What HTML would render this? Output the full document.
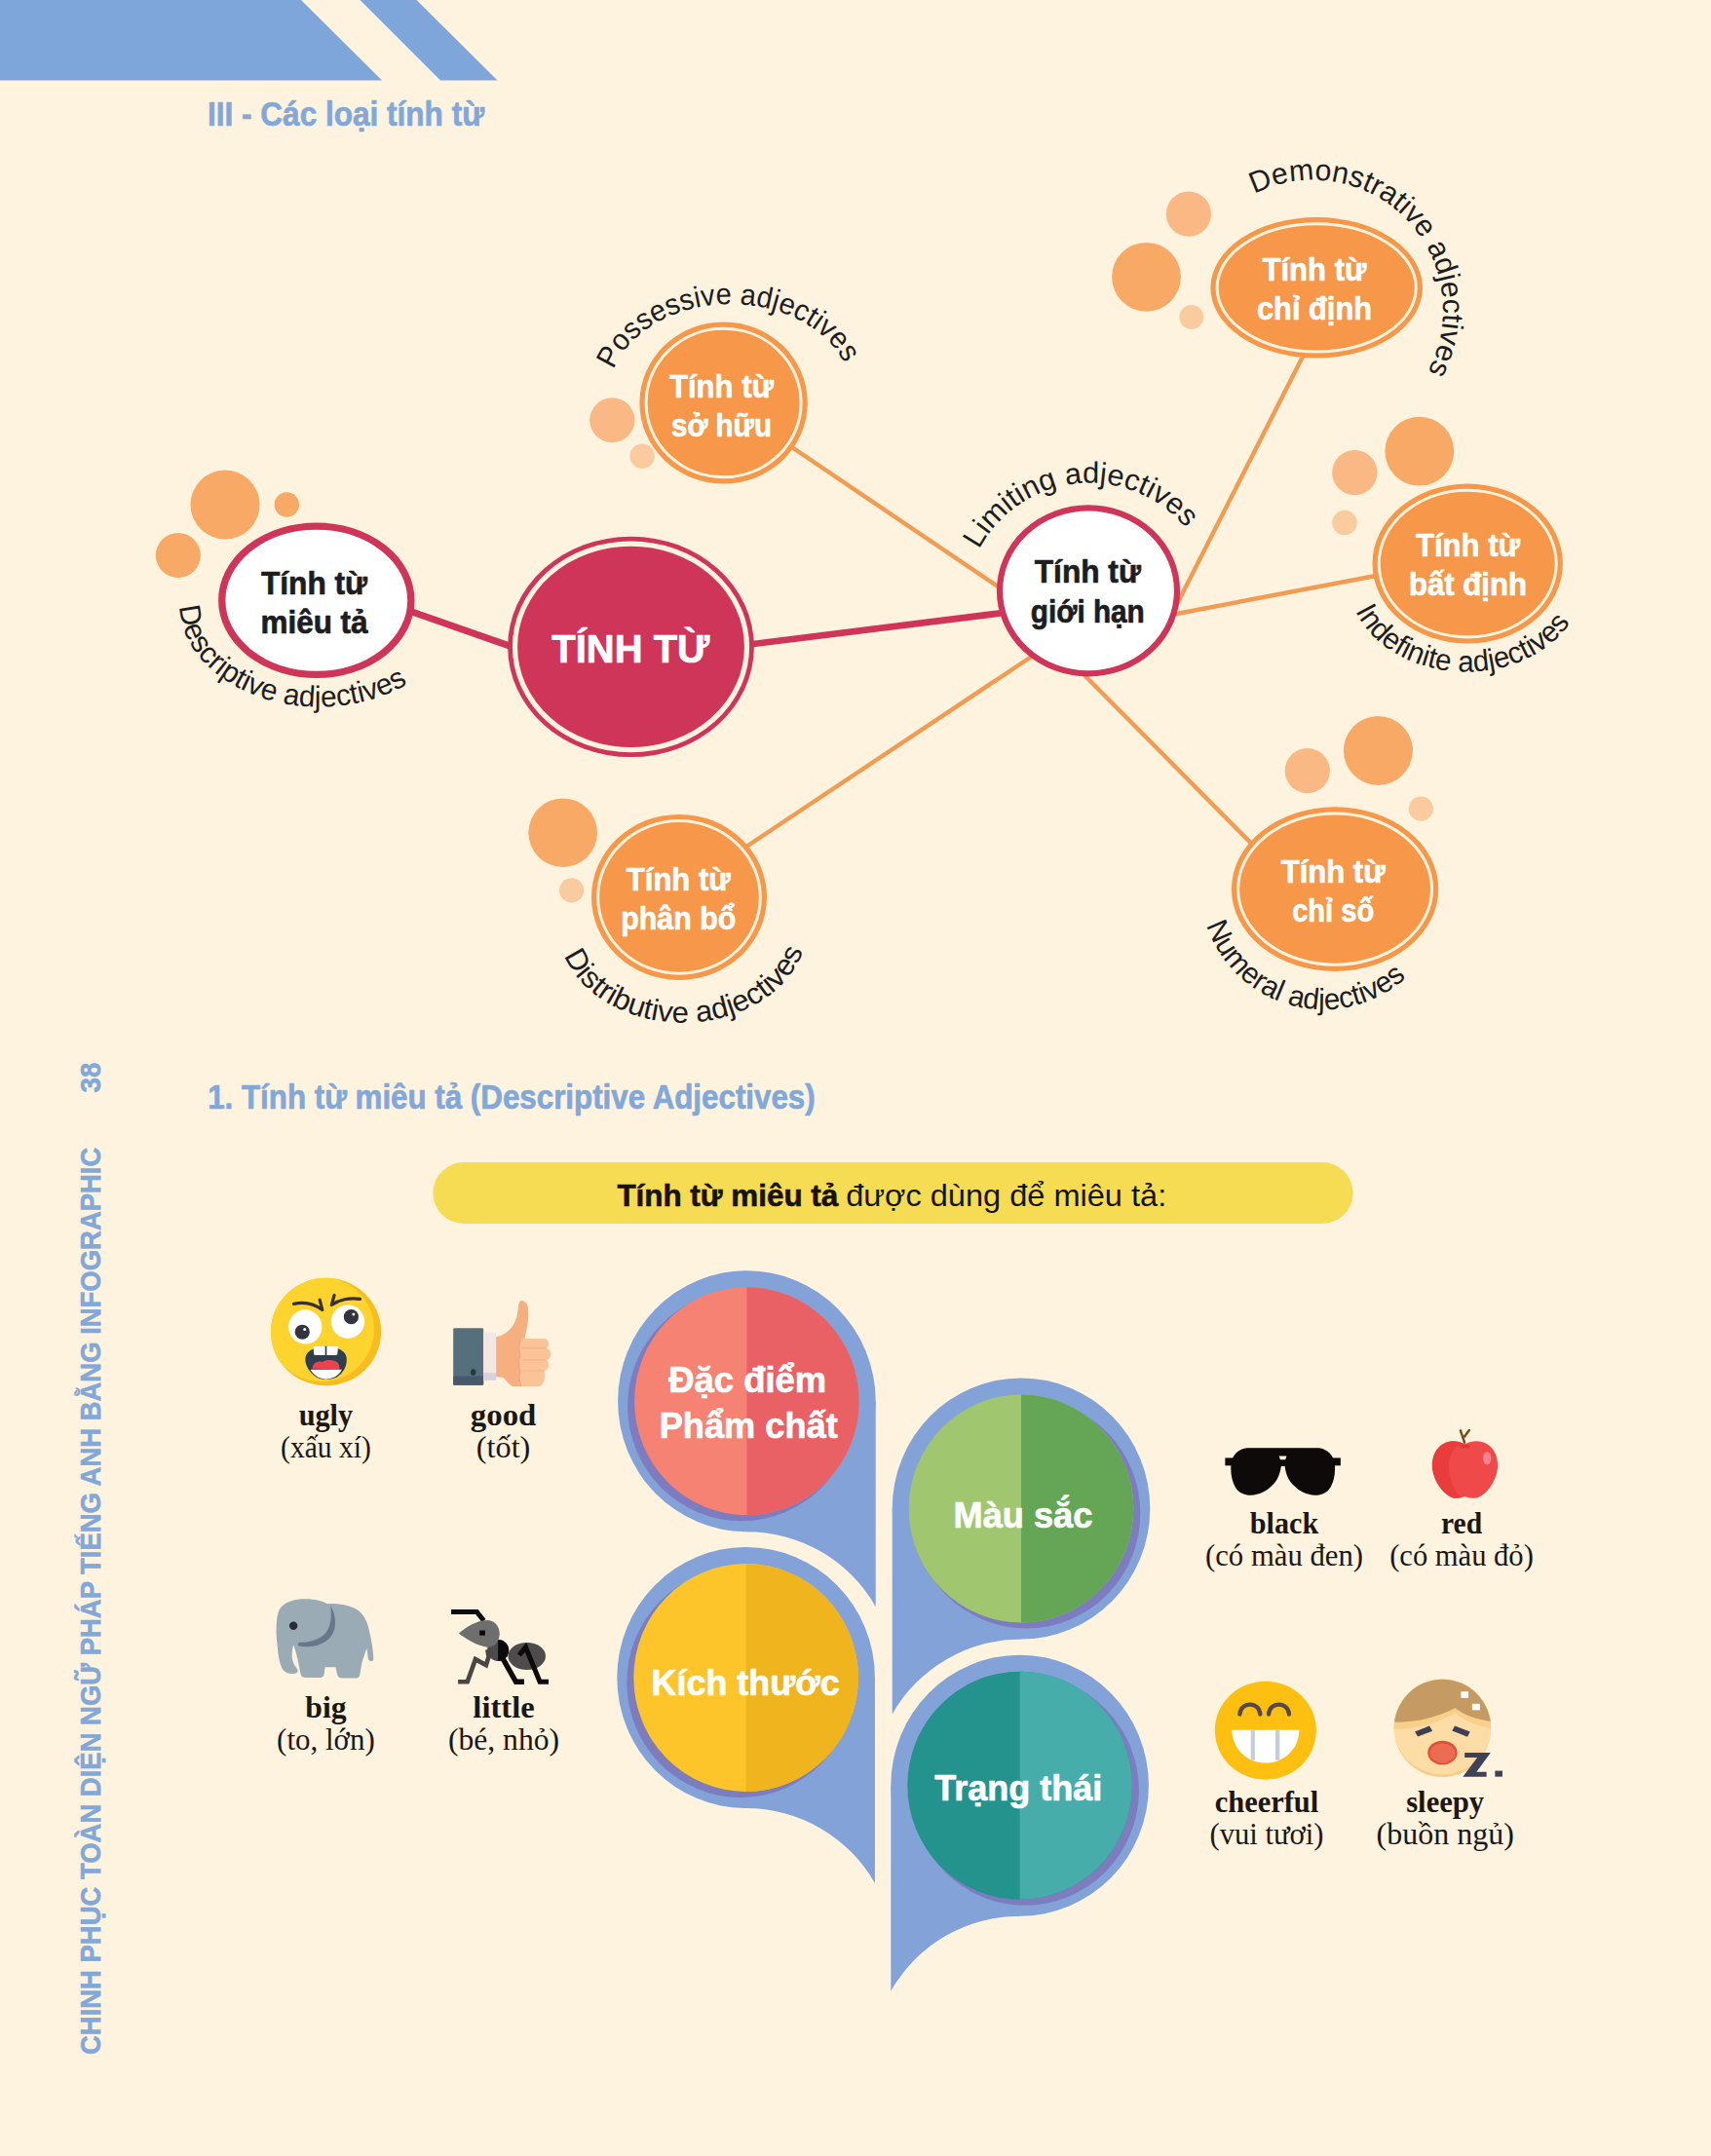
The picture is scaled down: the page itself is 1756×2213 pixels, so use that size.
<!DOCTYPE html>
<html lang="vi"><head><meta charset="utf-8"><title>III - Các loại tính từ</title>
<style>
html,body{margin:0;padding:0;background:#fef3de;}
body{width:1756px;height:2213px;overflow:hidden;}
svg{display:block;}
.sb{font-family:"Liberation Sans", sans-serif;font-weight:700;}
.sn{font-family:"Liberation Sans", sans-serif;font-weight:400;}
.rb{font-family:"Liberation Serif", serif;font-weight:700;}
.rn{font-family:"Liberation Serif", serif;font-weight:400;}
</style></head><body>
<svg width="1756" height="2213" viewBox="0 0 1756 2213">
<rect width="1756" height="2213" fill="#fef3de"/>
<defs>
<path id="cPos" d="M629.75,379.33 A125,93.9 0 0 1 871.10,383.92" fill="none"/>
<path id="cLim" d="M1004.83,564.13 A128.3,128.3 0 0 1 1226.51,555.06" fill="none"/>
<path id="cDem" d="M1287.24,199.00 A133.7,133.7 0 0 1 1456.38,395.85" fill="none"/>
<path id="cDes" d="M184.42,622.53 A143.3,104.8 0 0 0 431.65,692.84" fill="none"/>
<path id="cInd" d="M1391.15,627.15 A121.2,95.7 0 0 0 1617.80,628.51" fill="none"/>
<path id="cDis" d="M579.14,980.89 A127.5,98.4 0 0 0 827.08,964.21" fill="none"/>
<path id="cNum" d="M1238.06,949.65 A126.8,126.8 0 0 0 1454.58,991.92" fill="none"/>
</defs>
<polygon points="0,0 309,0 392,82.5 0,82.5" fill="#7fa6da"/>
<polygon points="369.5,0 427.5,0 510.5,82.5 452,82.5" fill="#7fa6da"/>
<text class="sb" x="213" y="128.6" font-size="35" fill="#82a8d9" text-anchor="start" textLength="284" lengthAdjust="spacingAndGlyphs" stroke="#82a8d9" stroke-width="0.7" stroke-linejoin="round">III - Các loại tính từ</text>
<line x1="420" y1="627" x2="530" y2="665.5" stroke="#cf3558" stroke-width="7" stroke-linecap="butt"/>
<line x1="765" y1="662" x2="1030" y2="629" stroke="#cf3558" stroke-width="6.8" stroke-linecap="butt"/>
<line x1="812" y1="458.5" x2="1030" y2="606" stroke="#f29b52" stroke-width="4.4" stroke-linecap="butt"/>
<line x1="1339" y1="362" x2="1208" y2="620" stroke="#f29b52" stroke-width="4.4" stroke-linecap="butt"/>
<line x1="1412" y1="591" x2="1205" y2="630.5" stroke="#f29b52" stroke-width="4.4" stroke-linecap="butt"/>
<line x1="766" y1="869" x2="1060" y2="673" stroke="#f29b52" stroke-width="4.4" stroke-linecap="butt"/>
<line x1="1284" y1="865.5" x2="1110" y2="690" stroke="#f29b52" stroke-width="4.4" stroke-linecap="butt"/>
<circle cx="231" cy="518" r="35.5" fill="#f8a965"/>
<circle cx="294.3" cy="518" r="12.7" fill="#f8a965"/>
<circle cx="182.8" cy="570" r="23" fill="#f8a965"/>
<circle cx="628.3" cy="431.3" r="23" fill="#fab884"/>
<circle cx="659.1" cy="468.3" r="12.7" fill="#fbcba0"/>
<circle cx="1219.9" cy="219.7" r="23.1" fill="#fab884"/>
<circle cx="1176.5" cy="284.3" r="35.4" fill="#f8a965"/>
<circle cx="1222.8" cy="325.5" r="12.5" fill="#fbcba0"/>
<circle cx="1456.8" cy="463.2" r="35.4" fill="#f8a965"/>
<circle cx="1390.3" cy="485.2" r="23.1" fill="#fab884"/>
<circle cx="1380" cy="536.5" r="12.7" fill="#fbcba0"/>
<circle cx="577.7" cy="854.7" r="35.3" fill="#f8a965"/>
<circle cx="586.6" cy="913.9" r="12.6" fill="#fbcba0"/>
<circle cx="1414.4" cy="770.5" r="35.5" fill="#f8a965"/>
<circle cx="1341.8" cy="791.2" r="23.1" fill="#fab884"/>
<circle cx="1458.3" cy="830.2" r="12.6" fill="#fbcba0"/>
<ellipse cx="324.8" cy="616.2" rx="97.05" ry="76.14999999999999" fill="#fff" stroke="#cf3558" stroke-width="7.3"/>
<text class="sb" x="322.5" y="609.7" font-size="33" fill="#1d1d1f" text-anchor="middle" textLength="109" lengthAdjust="spacingAndGlyphs" stroke="#1d1d1f" stroke-width="0.7" stroke-linejoin="round">Tính từ</text>
<text class="sb" x="322.5" y="649.8" font-size="33" fill="#1d1d1f" text-anchor="middle" textLength="110" lengthAdjust="spacingAndGlyphs" stroke="#1d1d1f" stroke-width="0.7" stroke-linejoin="round">miêu tả</text>
<ellipse cx="1117" cy="606.4" rx="91.0" ry="85.0" fill="#fff" stroke="#cf3558" stroke-width="6.2"/>
<text class="sb" x="1116.3" y="598.2" font-size="33" fill="#1d1d1f" text-anchor="middle" textLength="109" lengthAdjust="spacingAndGlyphs" stroke="#1d1d1f" stroke-width="0.7" stroke-linejoin="round">Tính từ</text>
<text class="sb" x="1116.3" y="638.7" font-size="33" fill="#1d1d1f" text-anchor="middle" textLength="117" lengthAdjust="spacingAndGlyphs" stroke="#1d1d1f" stroke-width="0.7" stroke-linejoin="round">giới hạn</text>
<ellipse cx="647.5" cy="663.9" rx="126.4" ry="113.2" fill="#cf3558"/>
<ellipse cx="647.5" cy="663.9" rx="119" ry="105.8" fill="none" stroke="#fef3de" stroke-width="5.2"/>
<text class="sb" x="647.3" y="679.9" font-size="40" fill="#fff" text-anchor="middle" textLength="162" lengthAdjust="spacingAndGlyphs" stroke="#fff" stroke-width="0.7" stroke-linejoin="round">TÍNH TỪ</text>
<ellipse cx="742.6" cy="413.5" rx="86.2" ry="83" fill="#f6974a"/>
<ellipse cx="742.6" cy="413.5" rx="79.5" ry="76.3" fill="none" stroke="#fef3de" stroke-width="3"/>
<text class="sb" x="740.5" y="407.7" font-size="33" fill="#fff" text-anchor="middle" textLength="107" lengthAdjust="spacingAndGlyphs" stroke="#fff" stroke-width="0.7" stroke-linejoin="round">Tính từ</text>
<text class="sb" x="740.5" y="447.9" font-size="33" fill="#fff" text-anchor="middle" textLength="103" lengthAdjust="spacingAndGlyphs" stroke="#fff" stroke-width="0.7" stroke-linejoin="round">sở hữu</text>
<ellipse cx="1351.2" cy="295.3" rx="108.8" ry="72.3" fill="#f6974a"/>
<ellipse cx="1351.2" cy="295.3" rx="102.1" ry="65.6" fill="none" stroke="#fef3de" stroke-width="3"/>
<text class="sb" x="1349" y="287.9" font-size="33" fill="#fff" text-anchor="middle" textLength="107" lengthAdjust="spacingAndGlyphs" stroke="#fff" stroke-width="0.7" stroke-linejoin="round">Tính từ</text>
<text class="sb" x="1349" y="328" font-size="33" fill="#fff" text-anchor="middle" textLength="118" lengthAdjust="spacingAndGlyphs" stroke="#fff" stroke-width="0.7" stroke-linejoin="round">chỉ định</text>
<ellipse cx="1506.2" cy="578.6" rx="97.7" ry="82" fill="#f6974a"/>
<ellipse cx="1506.2" cy="578.6" rx="91.0" ry="75.3" fill="none" stroke="#fef3de" stroke-width="3"/>
<text class="sb" x="1506.5" y="571.1" font-size="33" fill="#fff" text-anchor="middle" textLength="107" lengthAdjust="spacingAndGlyphs" stroke="#fff" stroke-width="0.7" stroke-linejoin="round">Tính từ</text>
<text class="sb" x="1506.5" y="611.3" font-size="33" fill="#fff" text-anchor="middle" textLength="121" lengthAdjust="spacingAndGlyphs" stroke="#fff" stroke-width="0.7" stroke-linejoin="round">bất định</text>
<ellipse cx="697" cy="920.9" rx="90" ry="85" fill="#f6974a"/>
<ellipse cx="697" cy="920.9" rx="83.3" ry="78.3" fill="none" stroke="#fef3de" stroke-width="3"/>
<text class="sb" x="696.3" y="913.6" font-size="33" fill="#fff" text-anchor="middle" textLength="107" lengthAdjust="spacingAndGlyphs" stroke="#fff" stroke-width="0.7" stroke-linejoin="round">Tính từ</text>
<text class="sb" x="696.3" y="954.2" font-size="33" fill="#fff" text-anchor="middle" textLength="118" lengthAdjust="spacingAndGlyphs" stroke="#fff" stroke-width="0.7" stroke-linejoin="round">phân bổ</text>
<ellipse cx="1370.1" cy="912.6" rx="106.2" ry="84.3" fill="#f6974a"/>
<ellipse cx="1370.1" cy="912.6" rx="99.5" ry="77.6" fill="none" stroke="#fef3de" stroke-width="3"/>
<text class="sb" x="1368.2" y="905.5" font-size="33" fill="#fff" text-anchor="middle" textLength="107" lengthAdjust="spacingAndGlyphs" stroke="#fff" stroke-width="0.7" stroke-linejoin="round">Tính từ</text>
<text class="sb" x="1368.2" y="945.8" font-size="33" fill="#fff" text-anchor="middle" textLength="84" lengthAdjust="spacingAndGlyphs" stroke="#fff" stroke-width="0.7" stroke-linejoin="round">chỉ số</text>
<text class="sn" font-size="30.5" fill="#1d1d1f" textLength="283.7" lengthAdjust="spacingAndGlyphs"><textPath href="#cPos">Possessive adjectives</textPath></text>
<text class="sn" font-size="30.5" fill="#1d1d1f" textLength="251.6" lengthAdjust="spacingAndGlyphs"><textPath href="#cLim">Limiting adjectives</textPath></text>
<text class="sn" font-size="30.5" fill="#1d1d1f" textLength="337.9" lengthAdjust="spacingAndGlyphs"><textPath href="#cDem">Demonstrative adjectives</textPath></text>
<text class="sn" font-size="30.5" fill="#1d1d1f" textLength="288.8" lengthAdjust="spacingAndGlyphs"><textPath href="#cDes">Descriptive adjectives</textPath></text>
<text class="sn" font-size="30.5" fill="#1d1d1f" textLength="259.0" lengthAdjust="spacingAndGlyphs"><textPath href="#cInd">Indefinite adjectives</textPath></text>
<text class="sn" font-size="30.5" fill="#1d1d1f" textLength="300.3" lengthAdjust="spacingAndGlyphs"><textPath href="#cDis">Distributive adjectives</textPath></text>
<text class="sn" font-size="30.5" fill="#1d1d1f" textLength="251.3" lengthAdjust="spacingAndGlyphs"><textPath href="#cNum">Numeral adjectives</textPath></text>
<text class="sb" transform="translate(103,2109) rotate(-90)" font-size="30" fill="#82a8d9" stroke="#82a8d9" stroke-width="0.6" textLength="931.3" lengthAdjust="spacingAndGlyphs">CHINH PHỤC TOÀN DIỆN NGỮ PHÁP TIẾNG ANH BẰNG INFOGRAPHIC</text>
<text class="sb" transform="translate(103,1121.4) rotate(-90)" font-size="30" fill="#82a8d9" stroke="#82a8d9" stroke-width="0.6" textLength="30.8" lengthAdjust="spacingAndGlyphs">38</text>
<text class="sb" x="213.2" y="1137.9" font-size="35" fill="#82a8d9" text-anchor="start" textLength="623.5" lengthAdjust="spacingAndGlyphs" stroke="#82a8d9" stroke-width="0.7" stroke-linejoin="round">1. Tính từ miêu tả (Descriptive Adjectives)</text>
<rect x="444.4" y="1193" width="944.2" height="63" rx="31.5" fill="#f5dc52"/>
<text x="633.4" y="1238" font-size="32" fill="#17130c"><tspan class="sb" stroke="#17130c" stroke-width="0.6" textLength="226.8" lengthAdjust="spacingAndGlyphs">Tính từ miêu tả</tspan><tspan class="sn" dx="8" textLength="329" lengthAdjust="spacingAndGlyphs">được dùng để miêu tả:</tspan></text>
<ellipse cx="766.4" cy="1438.2" rx="132.3" ry="134" fill="#83a2d8"/>
<path d="M898.7,1438.2 L898.7,1649.2 A152,152 0 0 0 766.4,1572.2 L766.4,1438.2 Z" fill="#83a2d8"/>
<ellipse cx="760.9" cy="1443.2" rx="116.8" ry="118" fill="#7c7cbf"/>
<ellipse cx="766.4" cy="1438.2" rx="115.3" ry="117" fill="#f58273"/>
<path d="M766.4,1321.2 A115.3,117 0 0 1 766.4,1555.2 Z" fill="#e96165"/>
<text class="sb" x="767.2" y="1429.2" font-size="37" fill="#fff" text-anchor="middle" textLength="162" lengthAdjust="spacingAndGlyphs" stroke="#fff" stroke-width="0.7" stroke-linejoin="round">Đặc điểm</text>
<text class="sb" x="768.2" y="1476" font-size="37" fill="#fff" text-anchor="middle" textLength="183" lengthAdjust="spacingAndGlyphs" stroke="#fff" stroke-width="0.7" stroke-linejoin="round">Phẩm chất</text>
<ellipse cx="765.6" cy="1722" rx="132.3" ry="134" fill="#83a2d8"/>
<path d="M897.9000000000001,1722 L897.9000000000001,1933 A152,152 0 0 0 765.6,1856 L765.6,1722 Z" fill="#83a2d8"/>
<ellipse cx="760.1" cy="1727" rx="116.8" ry="118" fill="#7c7cbf"/>
<ellipse cx="765.6" cy="1722" rx="115.3" ry="117" fill="#fec52a"/>
<path d="M765.6,1605 A115.3,117 0 0 1 765.6,1839 Z" fill="#f0b41f"/>
<text class="sb" x="765.1" y="1740.1" font-size="37" fill="#fff" text-anchor="middle" textLength="193" lengthAdjust="spacingAndGlyphs" stroke="#fff" stroke-width="0.7" stroke-linejoin="round">Kích thước</text>
<ellipse cx="1048" cy="1548.5" rx="132.3" ry="134" fill="#83a2d8"/>
<path d="M915.7,1548.5 L915.7,1759.5 A152,152 0 0 1 1048,1682.5 L1048,1548.5 Z" fill="#83a2d8"/>
<ellipse cx="1053.5" cy="1553.5" rx="116.8" ry="118" fill="#7c7cbf"/>
<ellipse cx="1048" cy="1548.5" rx="115.3" ry="117" fill="#a0c76f"/>
<path d="M1048,1431.5 A115.3,117 0 0 1 1048,1665.5 Z" fill="#64a655"/>
<text class="sb" x="1049.9" y="1567.6" font-size="37" fill="#fff" text-anchor="middle" textLength="142.8" lengthAdjust="spacingAndGlyphs" stroke="#fff" stroke-width="0.7" stroke-linejoin="round">Màu sắc</text>
<ellipse cx="1046.6" cy="1832.7" rx="132.3" ry="134" fill="#83a2d8"/>
<path d="M914.3,1832.7 L914.3,2043.7 A152,152 0 0 1 1046.6,1966.7 L1046.6,1832.7 Z" fill="#83a2d8"/>
<ellipse cx="1052.1" cy="1837.7" rx="116.8" ry="118" fill="#7c7cbf"/>
<ellipse cx="1046.6" cy="1832.7" rx="115.3" ry="117" fill="#24928d"/>
<path d="M1046.6,1715.7 A115.3,117 0 0 1 1046.6,1949.7 Z" fill="#47adab"/>
<text class="sb" x="1045.3" y="1847.7" font-size="37" fill="#fff" text-anchor="middle" textLength="172.2" lengthAdjust="spacingAndGlyphs" stroke="#fff" stroke-width="0.7" stroke-linejoin="round">Trạng thái</text>
<text class="rb" x="334.4" y="1462.6999999999998" font-size="31" fill="#1c1713" text-anchor="middle" textLength="55.5" lengthAdjust="spacingAndGlyphs">ugly</text>
<text class="rn" x="334.4" y="1495.5" font-size="31.5" fill="#1c1713" text-anchor="middle" textLength="92.7" lengthAdjust="spacingAndGlyphs">(xấu xí)</text>
<text class="rb" x="516.6" y="1462.6999999999998" font-size="31" fill="#1c1713" text-anchor="middle" textLength="67.5" lengthAdjust="spacingAndGlyphs">good</text>
<text class="rn" x="516.6" y="1495.5" font-size="31.5" fill="#1c1713" text-anchor="middle" textLength="55.5" lengthAdjust="spacingAndGlyphs">(tốt)</text>
<text class="rb" x="334.4" y="1762.6999999999998" font-size="31" fill="#1c1713" text-anchor="middle" textLength="42.2" lengthAdjust="spacingAndGlyphs">big</text>
<text class="rn" x="334.4" y="1796.1" font-size="31.5" fill="#1c1713" text-anchor="middle" textLength="100.6" lengthAdjust="spacingAndGlyphs">(to, lớn)</text>
<text class="rb" x="517" y="1762.6999999999998" font-size="31" fill="#1c1713" text-anchor="middle" textLength="63.3" lengthAdjust="spacingAndGlyphs">little</text>
<text class="rn" x="517" y="1796.1" font-size="31.5" fill="#1c1713" text-anchor="middle" textLength="114" lengthAdjust="spacingAndGlyphs">(bé, nhỏ)</text>
<text class="rb" x="1318" y="1573.8999999999999" font-size="31" fill="#1c1713" text-anchor="middle" textLength="70.4" lengthAdjust="spacingAndGlyphs">black</text>
<text class="rn" x="1318" y="1606.6" font-size="31.5" fill="#1c1713" text-anchor="middle" textLength="162" lengthAdjust="spacingAndGlyphs">(có màu đen)</text>
<text class="rb" x="1500" y="1573.8999999999999" font-size="31" fill="#1c1713" text-anchor="middle" textLength="42.2" lengthAdjust="spacingAndGlyphs">red</text>
<text class="rn" x="1500" y="1606.6" font-size="31.5" fill="#1c1713" text-anchor="middle" textLength="147.7" lengthAdjust="spacingAndGlyphs">(có màu đỏ)</text>
<text class="rb" x="1300" y="1860.1" font-size="31" fill="#1c1713" text-anchor="middle" textLength="106.6" lengthAdjust="spacingAndGlyphs">cheerful</text>
<text class="rn" x="1300" y="1892.8" font-size="31.5" fill="#1c1713" text-anchor="middle" textLength="117" lengthAdjust="spacingAndGlyphs">(vui tươi)</text>
<text class="rb" x="1483.2" y="1860.1" font-size="31" fill="#1c1713" text-anchor="middle" textLength="80" lengthAdjust="spacingAndGlyphs">sleepy</text>
<text class="rn" x="1483.2" y="1892.8" font-size="31.5" fill="#1c1713" text-anchor="middle" textLength="141.2" lengthAdjust="spacingAndGlyphs">(buồn ngủ)</text>
<g transform="translate(270,1300) scale(0.075979)">
<defs><clipPath id="uf"><ellipse cx="850" cy="882" rx="745" ry="728"/></clipPath></defs>
<ellipse cx="850" cy="882" rx="745" ry="728" fill="#f7bd1f"/>
<ellipse cx="788" cy="850" rx="712" ry="705" fill="#fdd42d" clip-path="url(#uf)"/>
<ellipse cx="570" cy="815" rx="225" ry="232" fill="#fff"/>
<ellipse cx="1145" cy="745" rx="225" ry="225" fill="#fff"/>
<circle cx="530" cy="885" r="100" fill="#33343f"/>
<circle cx="1190" cy="680" r="100" fill="#33343f"/>
<circle cx="562" cy="850" r="20" fill="#fff"/>
<circle cx="1222" cy="645" r="20" fill="#fff"/>
<g fill="none" stroke="#3a3032" stroke-width="42" stroke-linecap="round" stroke-linejoin="round">
<path d="M415,505 C560,470 700,510 800,585 L765,450"/>
<path d="M1310,440 C1170,415 1020,450 925,520 L962,388"/>
</g>
<path d="M572,1235 C585,1140 680,1088 850,1085 C1020,1088 1115,1140 1128,1235 C1140,1335 1085,1440 1000,1492 C905,1540 795,1540 715,1492 C625,1430 560,1330 572,1235 Z" fill="#2f3e4e"/>
<path d="M680,1078 L1012,1078 L1005,1180 Q1000,1198 980,1198 L710,1198 Q690,1198 686,1180 Z" fill="#fff"/>
<rect x="838" y="1075" width="22" height="125" fill="#2f3e4e"/>
<path d="M665,1380 C670,1300 730,1275 800,1285 C860,1255 960,1255 1010,1300 C1035,1330 1035,1365 1030,1390 Z" fill="#e8434f"/>
<path d="M640,1392 L1065,1392 C1030,1460 960,1515 850,1522 C745,1515 680,1460 640,1392 Z" fill="#fff"/>
</g>
<g transform="translate(455,1320) scale(0.070136)">
<rect x="145" y="615" width="442" height="835" rx="18" fill="#566f7c"/>
<path d="M145,1320 H587 V1432 Q587,1450 569,1450 H163 Q145,1450 145,1432 Z" fill="#475a6b"/>
<ellipse cx="437" cy="1262" rx="38" ry="46" fill="#27363d"/>
<rect x="587" y="680" width="185" height="700" fill="#f3e7e6"/>
<rect x="587" y="1270" width="185" height="110" fill="#d8d1dc"/>
<path d="M772,745 C900,725 1030,620 1075,450 C1095,360 1095,260 1118,225 C1150,195 1215,225 1235,300 C1255,420 1240,560 1205,700 L1190,775 L1160,1470 L1010,1470 C950,1440 920,1380 880,1345 C850,1330 800,1335 772,1330 Z" fill="#f6b07f"/>
<path d="M1110,790 Q1140,770 1180,770 L1480,770 Q1540,775 1540,840 Q1540,900 1500,910 Q1570,925 1570,1000 Q1570,1070 1510,1082 Q1545,1100 1540,1165 Q1535,1225 1470,1240 Q1490,1270 1482,1340 Q1470,1470 1380,1470 L1150,1470 Q1100,1470 1100,1420 Z" fill="#fac498"/>
<g fill="none" stroke="#f4b183" stroke-width="16" stroke-linecap="round"><path d="M1150,910 H1500"/><path d="M1150,1082 H1505"/><path d="M1150,1240 H1465"/></g>
<path d="M1130,780 Q1085,900 1120,1010 Q1085,1130 1120,1250 Q1090,1360 1135,1468" fill="none" stroke="#f2a878" stroke-width="26"/>
</g>
<g transform="translate(275,1630) scale(0.070136)">
<path d="M200,270 C280,190 420,155 560,160 C680,162 790,185 865,230 C960,228 1080,235 1180,262 C1330,300 1420,400 1460,540 C1510,720 1540,900 1545,1040 Q1540,1075 1505,1072 Q1470,1068 1465,1030 C1460,980 1455,930 1445,885 C1420,960 1385,1050 1372,1110 L1345,1270 Q1335,1318 1290,1320 L1080,1320 Q1030,1318 1015,1270 L990,1160 L835,1160 L822,1260 Q815,1312 765,1312 L540,1312 Q490,1310 478,1260 C455,1130 420,960 375,830 C350,900 345,990 360,1060 C375,1120 410,1160 435,1195 Q445,1240 400,1250 C330,1262 255,1245 215,1190 C165,1110 150,980 138,850 C120,700 115,560 135,430 C145,360 165,305 200,270 Z" fill="#9aabb6"/>
<path d="M915,255 C985,370 1005,520 960,640 C905,770 760,850 600,858 C540,862 490,858 445,845 Q430,820 455,795 C560,800 700,780 800,700 C900,620 945,480 915,255 Z" fill="#66788a"/>
<circle cx="373" cy="553" r="60" fill="#272c38"/>
</g>
<g transform="translate(455,1640) scale(0.070136)">
<path d="M115,207 H490 L592,335" fill="none" stroke="#0d0a0a" stroke-width="72" stroke-linejoin="miter"/>
<circle cx="800" cy="770" r="158" fill="#4b4a4f"/>
<path d="M800,612 A158,158 0 0 1 800,928 Z" fill="#0d0a0a"/>
<ellipse cx="1222" cy="855" rx="275" ry="200" fill="#4d4b4b"/>
<path d="M225,520 C350,420 480,335 640,328 C780,335 830,450 822,545 C810,650 760,722 640,722 C480,700 330,600 225,520 Z" fill="#6e6e6e"/>
<rect x="530" y="478" width="82" height="74" fill="#0d0a0a"/>
<path d="M645,760 L665,860 L625,985 L470,900 L352,1230 H215" fill="none" stroke="#4a4643" stroke-width="66" stroke-linejoin="miter"/>
<path d="M870,890 L1062,1230 H1182" fill="none" stroke="#0d0a0a" stroke-width="76" stroke-linejoin="miter"/>
<path d="M1110,840 L1205,725 L1412,1230 H1540" fill="none" stroke="#0d0a0a" stroke-width="72" stroke-linejoin="miter"/>
</g>
<g transform="translate(1250,1470) scale(0.078902)">
<rect x="93" y="335" width="1502" height="100" fill="#0d0a09"/>
<path d="M380,205 L1310,205 C1420,215 1510,300 1520,420 C1530,560 1500,680 1440,750 C1390,805 1320,822 1260,820 C1130,815 1000,740 920,610 C885,550 875,490 870,445 L822,445 C815,490 805,550 770,610 C690,740 560,815 430,820 C370,822 300,805 250,750 C190,680 160,560 170,420 C180,300 270,215 380,205 Z" fill="#0d0a09"/>
<path d="M795,312 H892 L878,358 H810 Z" fill="#fef3de"/>
</g>
<g transform="translate(1455,1455) scale(0.058445)">
<g fill="none" stroke="#7a4a1a" stroke-width="42" stroke-linecap="round"><path d="M752,228 L822,440"/><path d="M905,222 L822,335"/></g>
<path d="M825,470 C700,398 560,398 450,460 C300,545 240,720 258,900 C285,1100 400,1285 560,1385 C640,1432 740,1422 825,1388 C910,1422 1010,1432 1100,1385 C1260,1285 1375,1100 1402,900 C1420,720 1360,545 1210,460 C1100,398 950,398 825,470 Z" fill="#ef4949"/>
<path d="M825,470 C700,398 560,398 450,460 C300,545 240,720 258,900 C285,1100 400,1285 560,1385 C620,1420 690,1425 750,1410 C620,1250 540,1050 545,850 C550,700 600,570 700,500 C740,480 790,470 825,470 Z" fill="#e93c3c"/>
<ellipse cx="832" cy="505" rx="95" ry="35" fill="#e03636"/>
<ellipse cx="1218" cy="715" rx="72" ry="112" fill="#f6818d"/>
<ellipse cx="1195" cy="720" rx="30" ry="75" fill="#f28a96"/>
</g>
<g transform="translate(1235,1715) scale(0.075979)">
<ellipse cx="840" cy="805" rx="685" ry="665" fill="#fdc010"/>
<path d="M385,800 L1295,800 C1290,1050 1100,1245 840,1245 C580,1245 390,1050 385,800 Z" fill="#fff"/>
<rect x="640" y="800" width="56" height="408" fill="#c8ccd8"/>
<rect x="975" y="800" width="56" height="408" fill="#c8ccd8"/>
<g fill="none" stroke="#59484a" stroke-width="56" stroke-linecap="round">
<path d="M492,588 C500,410 760,410 768,588"/>
<path d="M882,588 C890,410 1150,410 1158,588"/>
</g>
</g>
<g transform="translate(1420,1715) scale(0.075979)">
<defs><clipPath id="sf"><ellipse cx="795" cy="775" rx="655" ry="660"/></clipPath></defs>
<ellipse cx="795" cy="775" rx="655" ry="660" fill="#f9cd85"/>
<ellipse cx="795" cy="745" rx="660" ry="655" fill="#fddca6" clip-path="url(#sf)"/>
<g clip-path="url(#sf)">
<path d="M100,790 C400,800 700,720 965,570 C1100,690 1300,760 1500,780 L1500,0 L100,0 Z" fill="#f8d08c"/>
<path d="M100,690 C400,710 700,640 965,505 C1100,610 1300,670 1500,690 L1500,0 L100,0 Z" fill="#c69a63"/>
</g>
<rect x="1045" y="280" width="100" height="86" fill="#fff"/>
<rect x="1195" y="445" width="106" height="86" fill="#fff"/>
<path d="M422,822 L618,745 L660,812 L462,890 Z" fill="#3e3f55"/>
<path d="M962,742 L1168,822 L1132,892 L925,808 Z" fill="#3e3f55"/>
<ellipse cx="795" cy="1105" rx="200" ry="162" fill="#df513b"/>
<ellipse cx="795" cy="1112" rx="170" ry="132" fill="#eb6b53"/>
<path d="M1095,1105 H1445 L1255,1365 H1390 V1430 H1070 L1265,1172 H1095 Z" fill="#3f4158"/>
<rect x="1505" y="1350" width="100" height="80" fill="#3f4158"/>
</g>

</svg>
</body></html>
